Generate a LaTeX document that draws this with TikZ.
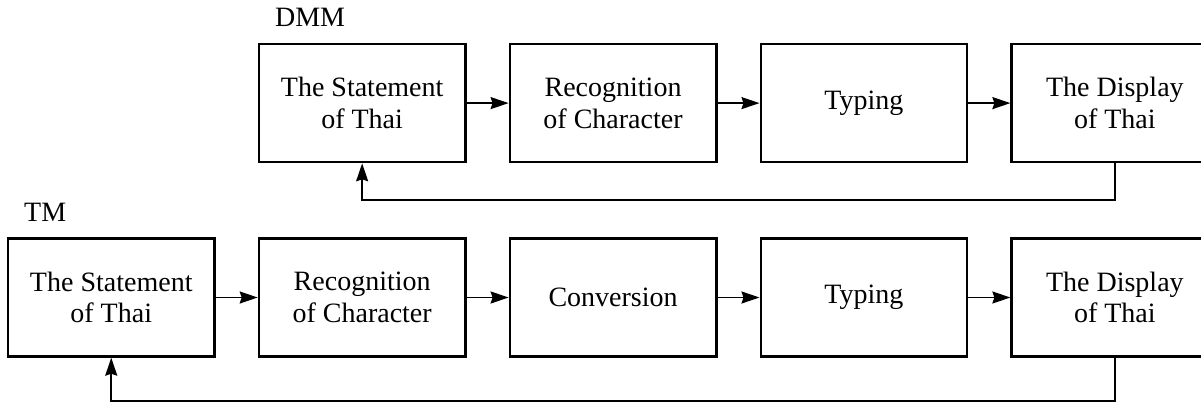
\documentclass[tikz,border=0pt]{standalone}
\usepackage{fontspec}
\setmainfont{Liberation Serif}
\usetikzlibrary{arrows.meta,positioning,calc}

\begin{document}
\begin{tikzpicture}[
  x=0.5pt, y=-0.5pt,
  font=\fontsize{14}{15.8}\selectfont,
  node distance=21pt,
  stage/.style={draw, line width=1.2pt, align=center, inner sep=2pt,
    minimum width=103.25pt, minimum height=59pt},
  tag/.style={anchor=base west, inner sep=0pt},
  feed/.style={-{Stealth[length=9pt, width=6pt, inset=1pt]}, line width=0.9pt}
]
\useasboundingbox (0,0) rectangle (1201,402);
\clip (0,0) rectangle (1201,402);

% TM row
\node[stage] (t1) at (111.25,297.5) {The Statement\\ of Thai};
\node[stage, right=of t1] (t2) {Recognition\\ of Character};
\node[stage, right=of t2] (t3) {Conversion};
\node[stage, right=of t3] (t4) {Typing};
\node[stage, right=of t4] (t5) {The Display\\ of Thai};

% DMM row
\node[stage, above=37pt of t2] (d1) {The Statement\\ of Thai};
\node[stage, right=of d1] (d2) {Recognition\\ of Character};
\node[stage, right=of d2] (d3) {Typing};
\node[stage, right=of d3] (d4) {The Display\\ of Thai};

\node[tag] (dmm) at ($(d1.north west)+(17,-16)$) {DMM};
\node[tag] (tm) at ($(t1.north west)+(17,-16)$) {TM};

\draw[feed] (d1) -- (d2);
\draw[feed] (d2) -- (d3);
\draw[feed] (d3) -- (d4);
\draw[feed] (d4.south) -- ++(0,37) -| (d1.south);

\draw[feed] (t1) -- (t2);
\draw[feed] (t2) -- (t3);
\draw[feed] (t3) -- (t4);
\draw[feed] (t4) -- (t5);
\draw[feed] (t5.south) -- ++(0,43) -| (t1.south);
\end{tikzpicture}
\end{document}
